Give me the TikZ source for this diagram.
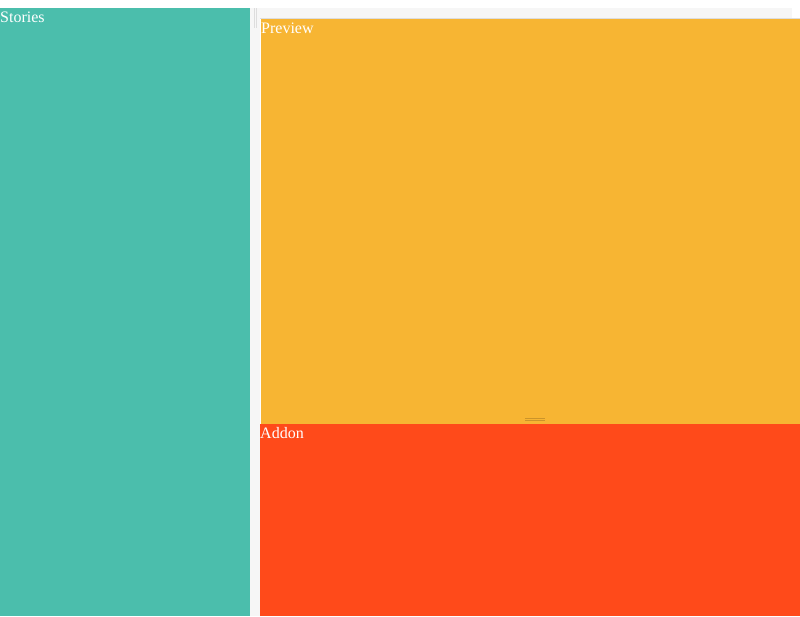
\documentclass[tikz,border=0pt]{standalone}
\usepackage{fontspec}
\setmainfont{Liberation Serif}
\definecolor{cteal}{HTML}{4BBEAC}
\definecolor{corange}{HTML}{F7B533}
\definecolor{cred}{HTML}{FF4A1A}
\definecolor{cgap}{HTML}{F6F6F6}
\definecolor{cline}{HTML}{DDDDDD}
\tikzset{
  panel/.style={anchor=north west, inner sep=0pt, outer sep=0pt, minimum width=#1},
  lbl/.style={anchor=base west, inner sep=0pt, text=white, font=\fontsize{16}{19}\selectfont},
  handle/.style={draw=cline, line width=1pt},
}
\begin{document}
\begin{tikzpicture}[x=1pt,y=-1pt]
\useasboundingbox (0,0) rectangle (800,616);
\fill[white] (0,0) rectangle (800,616);
% gap column
\fill[cgap] (250,8) rectangle (260,616);
\draw[handle] (254,8) -- (254,28);
\draw[handle] (256.5,8) -- (256.5,28);
% top strip above preview
\fill[cgap] (260,8) rectangle (792,18);
\draw[cline] (260,18.5) -- (800,18.5);
% panels
\fill[cteal] (0,8) coordinate (sTL) rectangle (250,616);
\fill[corange] (261,19) coordinate (pTL) rectangle (800,424);
\fill[cred] (260,424) coordinate (aTL) rectangle (800,616);
% resize handle
\draw[draw=corange!70!black!60!corange, line width=0.8pt] (525,418) -- (545,418);
\draw[draw=corange!70!black!60!corange, line width=0.8pt] (525,420.5) -- (545,420.5);
% labels
\node[lbl] (stories) at (0,22) {Stories};
\node[lbl] (preview) at (261,33) {Preview};
\node[lbl] (addon) at (260,438) {Addon};
\end{tikzpicture}
\end{document}
